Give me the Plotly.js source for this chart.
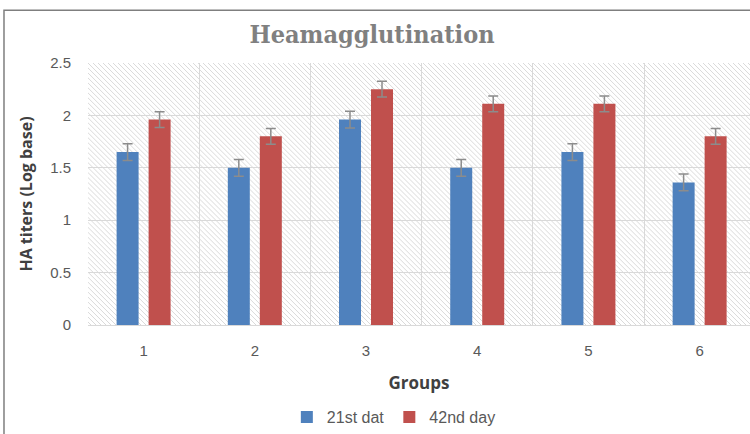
<!DOCTYPE html>
<html>
<head>
<meta charset="utf-8">
<script src="https://cdn.plot.ly/plotly-3.0.1.min.js"></script>
<style>html,body{margin:0;padding:0;background:#fff;}#chart{width:750px;height:434px;}</style>
</head>
<body>
<div id="chart"></div>
<script>
const groups = ['1', '2', '3', '4', '5', '6'];
const day21 = [1.65, 1.50, 1.96, 1.50, 1.65, 1.36];
const day42 = [1.96, 1.80, 2.25, 2.11, 2.11, 1.80];
const err21 = [0.08, 0.08, 0.08, 0.08, 0.08, 0.08];
const err42 = [0.075, 0.075, 0.075, 0.075, 0.075, 0.075];
const seriesNames = ['21st dat', '42nd day'];

const hatchSvg = '<svg xmlns="http://www.w3.org/2000/svg" width="662" height="263">' +
  '<defs><pattern id="h" patternUnits="userSpaceOnUse" width="5" height="5">' +
  '<path d="M-1,-1 L6,6 M-1,4 L1,6 M4,-1 L6,1" stroke="#dadada" stroke-width="1"/>' +
  '</pattern></defs><rect width="662" height="263" fill="#fff"/><rect width="662" height="263" fill="url(#h)"/></svg>';
const hatchUri = 'data:image/svg+xml;base64,' + btoa(hatchSvg);

const errStyle = {type: 'data', visible: true, color: '#8c8c8c', thickness: 1.5, width: 5};

const traces = [
  {type: 'bar', name: seriesNames[0], x: groups, y: day21,
   marker: {color: '#4F81BD'}, error_y: Object.assign({array: err21}, errStyle)},
  {type: 'bar', name: seriesNames[1], x: groups, y: day42,
   marker: {color: '#C0504D'}, error_y: Object.assign({array: err42}, errStyle)}
];

const layout = {
  width: 750, height: 434,
  margin: {l: 88, r: 0, t: 63, b: 108},
  paper_bgcolor: '#fff', plot_bgcolor: '#fff',
  font: {family: 'Liberation Sans, Arial, sans-serif', color: '#595959', size: 14},
  title: {text: 'Heamagglutination', font: {family: 'DejaVu Serif Condensed, DejaVu Serif, serif', size: 25, color: '#808080', weight: 'bold'},
          x: 0.496, xref: 'container', xanchor: 'center', y: 0.92, yref: 'container', yanchor: 'middle'},
  barmode: 'group', bargap: 0.4245, bargroupgap: 0.3125,
  xaxis: {type: 'category', range: [-0.5, 5.453], tickson: 'boundaries', showgrid: true, gridcolor: '#d9d9d9', gridwidth: 1,
          showline: true, linecolor: '#d9d9d9', ticks: '', ticklen: 0, tickfont: {size: 15, color: '#595959'},
          ticklabelstandoff: 12,
          title: {text: 'Groups', font: {family: 'Open Sans, sans-serif', size: 17, color: '#404040', weight: 'bold'}, standoff: 19}},
  yaxis: {range: [0, 2.5], dtick: 0.5, showgrid: true, gridcolor: '#d9d9d9', gridwidth: 1, zeroline: false,
          showline: false, ticks: '', tickfont: {size: 15, color: '#595959'}, ticklabelstandoff: 16,
          title: {text: 'HA titers (Log base)', font: {family: 'Open Sans, sans-serif', size: 16, color: '#404040', weight: 'bold'}, standoff: 13}},
  legend: {orientation: 'h', x: 0.462, xanchor: 'center', y: -0.35, yanchor: 'middle',
           font: {size: 16, color: '#595959'}, itemwidth: 30, traceorder: 'normal'},
  images: [{source: hatchUri, xref: 'paper', yref: 'paper', x: 0, y: 1, sizex: 1, sizey: 1,
            sizing: 'stretch', xanchor: 'left', yanchor: 'top', layer: 'below'}],
  shapes: [{type: 'rect', xref: 'paper', yref: 'paper', x0: -0.1269, x1: 1.02, y0: -0.45, y1: 1.2015,
            line: {color: '#7f7f7f', width: 1.5}, fillcolor: 'rgba(0,0,0,0)', layer: 'above'}]
};

Plotly.newPlot('chart', traces, layout, {displayModeBar: false, staticPlot: true});
</script>
</body>
</html>
